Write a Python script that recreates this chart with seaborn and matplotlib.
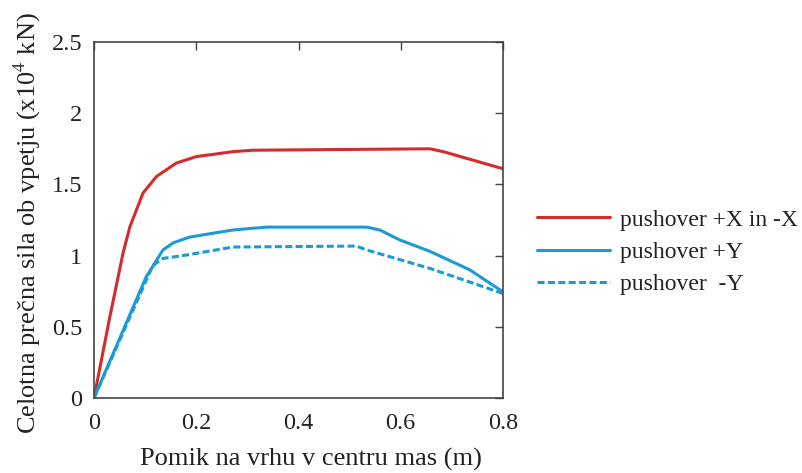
import matplotlib
matplotlib.use("Agg")
import matplotlib.pyplot as plt
import seaborn as sns
import pandas as pd

# Data
x_red = [0.0, 0.031, 0.057, 0.070, 0.096, 0.122, 0.161, 0.200, 0.272, 0.310, 0.657, 0.683, 0.800]
y_red = [0.0, 0.57, 1.02, 1.20, 1.44, 1.555, 1.65, 1.695, 1.73, 1.74, 1.75, 1.73, 1.61]

x_blue = [0.0, 0.102, 0.135, 0.155, 0.187, 0.272, 0.337, 0.533, 0.559, 0.598, 0.657, 0.735, 0.800]
y_blue = [0.0, 0.85, 1.04, 1.09, 1.13, 1.18, 1.20, 1.20, 1.18, 1.11, 1.03, 0.90, 0.745]

x_dash = [0.0, 0.115, 0.135, 0.174, 0.272, 0.513, 0.533, 0.657, 0.800]
y_dash = [0.0, 0.93, 0.98, 1.00, 1.06, 1.067, 1.04, 0.91, 0.734]

labels = ["pushover +X in -X", "pushover +Y", "pushover  -Y"]
x_ticks = [0, 0.2, 0.4, 0.6, 0.8]
x_ticklabels = ["0", "0.2", "0.4", "0.6", "0.8"]
y_ticks = [0, 0.5, 1, 1.5, 2, 2.5]
y_ticklabels = ["0", "0.5", "1", "1.5", "2", "2.5"]

sns.set_style("white")
plt.rcParams['font.family'] = ['Liberation Serif', 'DejaVu Serif']
plt.rcParams['mathtext.fontset'] = 'stix'

fig = plt.figure(figsize=(8.02, 4.73), dpi=100)
ax = fig.add_axes([94/802, 1-398/473, (503-94)/802, (398-42)/473])

red = "#d42c2c"
blue = "#1b9ad8"
sns.lineplot(x=x_red, y=y_red, ax=ax, color=red, lw=2.2, label=labels[0], sort=False)
sns.lineplot(x=x_blue, y=y_blue, ax=ax, color=blue, lw=2.2, label=labels[1], sort=False)
sns.lineplot(x=x_dash, y=y_dash, ax=ax, color=blue, lw=2.2, label=labels[2], sort=False,
             linestyle=(0, (2.3, 1.1)))

ax.set_xlim(0, 0.8)
ax.set_ylim(0, 2.5)
ax.set_xticks(x_ticks)
ax.set_xticklabels(x_ticklabels)
ax.set_yticks(y_ticks)
ax.set_yticklabels(y_ticklabels)
ax.tick_params(direction='in', top=True, right=True, length=6, width=1,
               color='#444444', labelsize=17.5, colors='#222222')
ax.tick_params(axis='y', pad=8.5)
ax.tick_params(axis='x', pad=11)
for s in ax.spines.values():
    s.set_color('#444444')
    s.set_linewidth(1.2)

ax.set_xlabel("Pomik na vrhu v centru mas (m)", fontsize=19, color='#222222')
ax.set_ylabel("Celotna prečna sila ob vpetju (x10$^4$ kN)", fontsize=19, color='#222222')
ax.xaxis.set_label_coords(0.53, -0.14)
ax.yaxis.set_label_coords(-0.125, 0.49)

leg = ax.legend(loc='center left', bbox_to_anchor=(537/802, 1-252/473),
                bbox_transform=fig.transFigure, borderaxespad=0, borderpad=0,
                frameon=False, fontsize=17, handlelength=3.1, handletextpad=0.42,
                labelspacing=0.45)
for t in leg.get_texts():
    t.set_color('#222222')

fig.savefig("out.png", dpi=100)
